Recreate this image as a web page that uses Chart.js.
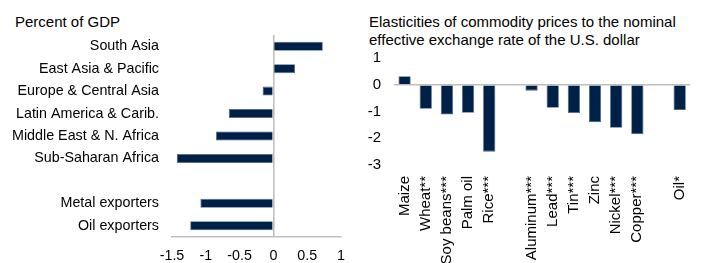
<!DOCTYPE html>
<html>
<head>
<meta charset="utf-8">
<script src="https://cdn.jsdelivr.net/npm/chart.js@4/dist/chart.umd.min.js"></script>
<style>
  body { margin: 0; background: #fff; width: 709px; height: 263px; position: relative; overflow: hidden; font-family: 'Liberation Sans', Arial, sans-serif; }
  .title { position: absolute; font-size: 15px; line-height: 18px; color: #000; white-space: nowrap; }
  .box { position: absolute; top: 0; }
</style>
</head>
<body>
<div class="title" style="left:15px; top:13px;">Percent of GDP</div>
<div class="title" style="left:369px; top:13px;">Elasticities of commodity prices to the nominal<br>effective exchange rate of the U.S. dollar</div>
<div class="box" style="left:0; width:355px; height:263px;"><canvas id="left" width="355" height="263"></canvas></div>
<div class="box" style="left:355px; width:354px; height:263px;"><canvas id="right" width="354" height="263"></canvas></div>
<script>
// data - left panel (percent of GDP)
const regions = ['South Asia', 'East Asia & Pacific', 'Europe & Central Asia', 'Latin America & Carib.',
  'Middle East & N. Africa', 'Sub-Saharan Africa', '', 'Metal exporters', 'Oil exporters'];
const regionValues = [0.73, 0.32, -0.16, -0.66, -0.85, -1.43, null, -1.08, -1.23];
const leftTicks = [-1.5, -1, -0.5, 0, 0.5, 1];

// data - right panel (elasticities)
const commodities = ['Maize', 'Wheat**', 'Soy beans***', 'Palm oil', 'Rice***', '',
  'Aluminum***', 'Lead***', 'Tin***', 'Zinc', 'Nickel***', 'Copper***', '', 'Oil*'];
const elasticities = [0.32, -0.9, -1.11, -1.05, -2.5, null, -0.22, -0.86, -1.06, -1.4, -1.61, -1.85, null, -0.94];
const rightTicks = [1, 0, -1, -2, -3];

const barColor = '#002147';
const barEdge = '#4f6686';
const axisGray = '#bfbfbf';

Chart.defaults.font.family = "'Liberation Sans', Arial, sans-serif";
Chart.defaults.color = '#000';
Chart.defaults.animation = false;

// left: horizontal bars
new Chart(document.getElementById('left'), {
  type: 'bar',
  data: {
    labels: regions,
    datasets: [{
      data: regionValues,
      backgroundColor: barColor,
      borderColor: barEdge,
      borderWidth: 0.8,
      barPercentage: 0.4,
      categoryPercentage: 1
    }]
  },
  options: {
    responsive: false,
    indexAxis: 'y',
    layout: { padding: { top: 35, right: 13, left: 0, bottom: 0 } },
    plugins: { legend: { display: false }, tooltip: { enabled: false } },
    scales: {
      x: {
        min: leftTicks[0],
        max: leftTicks[leftTicks.length - 1],
        afterBuildTicks: axis => { axis.ticks = leftTicks.map(v => ({ value: v })); },
        afterFit: axis => { axis.height = 26; },
        ticks: { font: { size: 14.3 }, padding: 10, callback: v => String(v) },
        grid: {
          drawTicks: false,
          lineWidth: 1.6,
          color: ctx => (ctx.tick && ctx.tick.value === 0) ? axisGray : 'transparent'
        },
        border: { display: true, color: axisGray, width: 1.5 }
      },
      y: {
        afterFit: axis => { axis.width = 172; },
        ticks: { font: { size: 14.3 }, padding: 13, autoSkip: false },
        grid: { display: false, drawTicks: false },
        border: { display: false }
      }
    }
  }
});

// right: vertical bars
new Chart(document.getElementById('right'), {
  type: 'bar',
  data: {
    labels: commodities,
    datasets: [{
      data: elasticities,
      backgroundColor: barColor,
      borderColor: barEdge,
      borderWidth: 0.8,
      barPercentage: 0.58,
      categoryPercentage: 1
    }]
  },
  options: {
    responsive: false,
    layout: { padding: { top: 58, right: 9, left: 0, bottom: 0 } },
    plugins: { legend: { display: false }, tooltip: { enabled: false } },
    scales: {
      x: {
        afterFit: axis => { axis.height = 98; },
        ticks: { font: { size: 15 }, padding: 11, minRotation: 90, maxRotation: 90, autoSkip: false },
        grid: { display: false, drawTicks: false },
        border: { display: false }
      },
      y: {
        min: -3,
        max: 1,
        afterBuildTicks: axis => { axis.ticks = rightTicks.map(v => ({ value: v })); },
        afterFit: axis => { axis.width = 39; },
        ticks: { font: { size: 15 }, padding: 13, callback: v => String(v) },
        grid: {
          drawTicks: false,
          lineWidth: 1.6,
          color: ctx => (ctx.tick && ctx.tick.value === 0) ? axisGray : 'transparent'
        },
        border: { display: false }
      }
    }
  }
});
</script>
</body>
</html>
